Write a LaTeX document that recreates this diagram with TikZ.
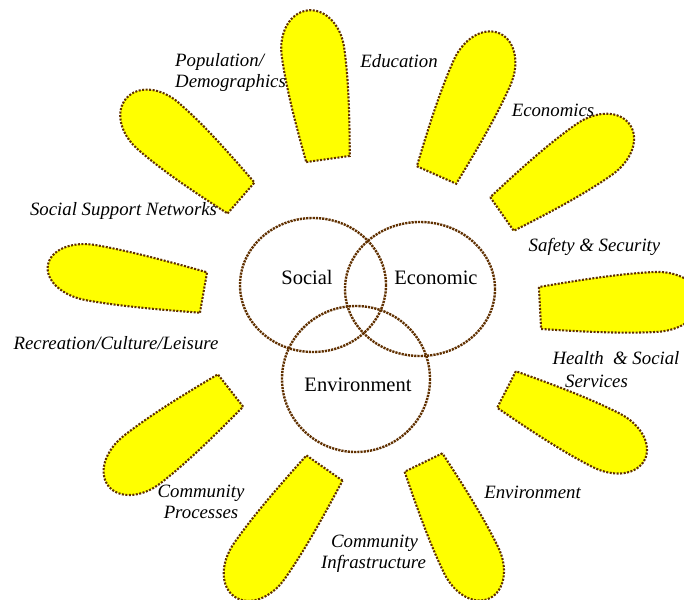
\documentclass[tikz,border=0pt]{standalone}
\usepackage{fontspec}
\setmainfont{Liberation Serif}
\definecolor{dotbrown}{RGB}{96,48,0}
\definecolor{petalyellow}{RGB}{255,255,0}
\newcommand{\mypetal}[6]{%
  \begin{scope}[shift={(#1,#2)}, rotate=#3]
    \path[petalstyle] (0,-#5) -- (0,#5)
      .. controls ({0.35*#4},{#5+0.75*(#6-#5)}) and ({0.55*#4},#6) .. ({0.72*#4},#6)
      .. controls ({0.88*#4},#6) and (#4,{0.55*#6}) .. (#4,0)
      .. controls (#4,{-0.55*#6}) and ({0.88*#4},-#6) .. ({0.72*#4},-#6)
      .. controls ({0.55*#4},-#6) and ({0.35*#4},{-#5-0.75*(#6-#5)}) .. (0,-#5) -- cycle;
  \end{scope}}
\begin{document}
\begin{tikzpicture}[x=1pt,y=-1pt,
  petalstyle/.style={fill=petalyellow, draw=dotbrown, line width=2.1pt, dash pattern=on 2pt off 1.5pt},
  venn/.style={draw=dotbrown, line width=2.4pt, dash pattern=on 2.2pt off 1pt},
  lab/.style={font=\fontsize{18.8}{21.5}\selectfont\itshape, inner sep=0pt, anchor=base},
  vlab/.style={font=\fontsize{20.5}{23}\selectfont, inner sep=0pt, anchor=base}]
\useasboundingbox (0,0) rectangle (684,599);
\clip (0,0) rectangle (684,599);
% petals
\mypetal{241}{198}{139}{152}{20.5}{31}
\mypetal{328}{159}{98}{150}{22}{31.5}
\mypetal{436.5}{175}{66}{155}{21.5}{31}
\mypetal{502}{214}{35}{156}{20.5}{31}
\mypetal{540}{308}{3}{160}{21}{30}
\mypetal{506.5}{389.5}{-27}{155}{20.5}{30}
\mypetal{423.5}{462.5}{-64}{151}{21}{30}
\mypetal{324.5}{468}{-125}{157}{22}{31}
\mypetal{230.5}{390.5}{-142}{155}{20.5}{30}
\mypetal{203.5}{292.5}{170}{158}{20.5}{28}
% Venn circles
\draw[venn] (313,285) ellipse [x radius=73, y radius=67];
\draw[venn] (420,289) ellipse [x radius=75, y radius=67];
\draw[venn] (356,379) ellipse [x radius=74, y radius=73];
\node[vlab] (social) at (307,284) {Social};
\node[vlab] (economic) at (436,284) {Economic};
\node[vlab] (environment) at (358,391.5) {Environment};
% labels
\node[lab, anchor=base west] (pop1) at (175,67) {Population/};
\node[lab, anchor=base west] (pop2) at (175,88) {Demographics};
\node[lab] (edu) at (399,68) {Education};
\node[lab] (eco) at (553,117) {Economics};
\node[lab] (ssn) at (123.5,215) {Social Support Networks};
\node[lab] (saf) at (594.5,251) {Safety \& Security};
\node[lab] (rec) at (116,349) {Recreation/Culture/Leisure};
\node[lab] (hea1) at (616,364) {Health~ \& Social};
\node[lab] (hea2) at (596.5,387) {Services};
\node[lab] (env) at (532.5,498) {Environment};
\node[lab] (cp1) at (201,497) {Community};
\node[lab] (cp2) at (201,518) {Processes};
\node[lab] (ci1) at (374.5,547) {Community};
\node[lab] (ci2) at (373.5,568) {Infrastructure};
\end{tikzpicture}
\end{document}
